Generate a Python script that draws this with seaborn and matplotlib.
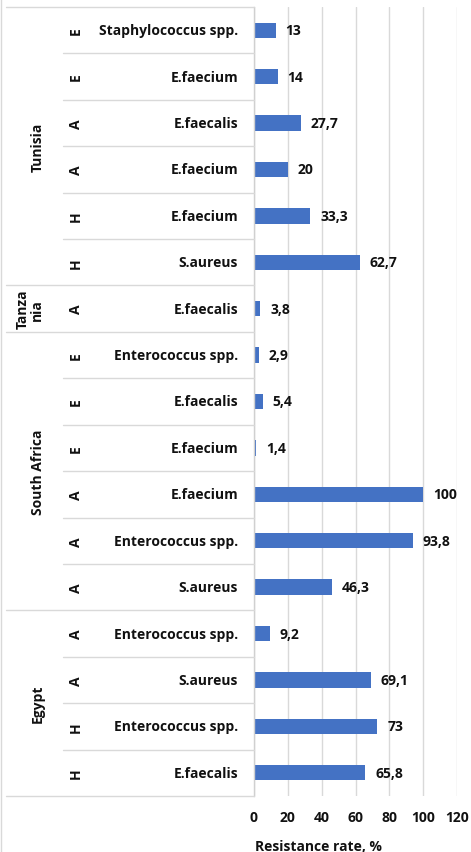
import numpy as np
import pandas as pd
import matplotlib
matplotlib.use("Agg")
import matplotlib.pyplot as plt
from matplotlib.lines import Line2D
from matplotlib.transforms import blended_transform_factory
import seaborn as sns

# ---- data (top to bottom) ----
countries = ["Tunisia"] * 6 + ["Tanzania"] + ["South Africa"] * 6 + ["Egypt"] * 4
country_labels = {"Tunisia": "Tunisia", "Tanzania": "Tanza\nnia",
                  "South Africa": "South Africa", "Egypt": "Egypt"}
sources = ["E", "E", "A", "A", "H", "H",
           "A",
           "E", "E", "E", "A", "A", "A",
           "A", "A", "H", "H"]
species = ["Staphylococcus spp.", "E.faecium", "E.faecalis", "E.faecium", "E.faecium", "S.aureus",
           "E.faecalis",
           "Enterococcus spp.", "E.faecalis", "E.faecium", "E.faecium", "Enterococcus spp.", "S.aureus",
           "Enterococcus spp.", "S.aureus", "Enterococcus spp.", "E.faecalis"]
values = [13, 14, 27.7, 20, 33.3, 62.7,
          3.8,
          2.9, 5.4, 1.4, 100, 93.8, 46.3,
          9.2, 69.1, 73, 65.8]
x_ticks = [0, 20, 40, 60, 80, 100, 120]

df = pd.DataFrame({"row": [f"r{i}" for i in range(len(values))],
                   "country": countries, "source": sources,
                   "species": species, "value": values})

sns.set_theme(style="white")
plt.rcParams["font.family"] = ["Open Sans", "DejaVu Sans"]
plt.rcParams["font.weight"] = "bold"

W, H = 471, 853
fig = plt.figure(figsize=(W / 100, H / 100), dpi=100)
ax = fig.add_axes([254 / W, 1 - 797 / H, (457 - 254) / W, (797 - 8) / H])

bar_color = "#4472C4"
sns.barplot(data=df, y="row", x="value", orient="h", color=bar_color,
            width=0.33, ax=ax, saturation=1, linewidth=0)

FS = 10
TXT = "#111111"
ax.set_xlim(0, 120)
ax.set_xticks(x_ticks)
ax.set_xticklabels([str(t) for t in x_ticks], fontsize=FS, fontweight="bold", color=TXT)
ax.tick_params(axis="x", length=0, pad=10)
ax.set_yticks([])
ax.set_ylabel("")
ax.set_xlabel("Resistance rate, %", fontsize=FS, fontweight="bold", color=TXT)
ax.xaxis.set_label_coords(0.315, -0.054)
for s in ["top", "right", "bottom"]:
    ax.spines[s].set_visible(False)
ax.spines["left"].set_color("#D0D0D0")
ax.spines["left"].set_linewidth(1)
ax.grid(axis="x", color="#D9D9D9", linewidth=1)
ax.set_axisbelow(True)

# data labels
for i, v in enumerate(values):
    txt = (f"{v:g}").replace(".", ",")
    ax.annotate(txt, (v, i), xytext=(7, 0), textcoords="offset points",
                va="center", ha="left", fontsize=FS, fontweight="bold", color=TXT)

# category table on the left
tr = blended_transform_factory(fig.transFigure, ax.transData)
line_col = "#D9D9D9"
n = len(values)
for i in range(n):
    ax.text(238 / W, i, species[i], transform=tr, ha="right", va="center",
            fontsize=FS, fontweight="bold", color=TXT)
    ax.text(76 / W, i, sources[i], transform=tr, ha="center", va="center",
            rotation=90, fontsize=FS, fontweight="bold", color=TXT)

# boundaries
for i in range(1, n):
    y = i - 0.5
    x0 = 6 / W if countries[i] != countries[i - 1] else 63 / W
    fig.add_artist(Line2D([x0, 254 / W], [y, y], transform=tr, color=line_col, lw=1))
for y in [-0.5, n - 0.5]:
    fig.add_artist(Line2D([6 / W, 254 / W], [y, y], transform=tr, color=line_col, lw=1))

# country labels
start = 0
for i in range(1, n + 1):
    if i == n or countries[i] != countries[start]:
        mid = (start + i - 1) / 2
        cx = 30 / W if countries[start] == "Tanzania" else 38 / W
        ax.text(cx, mid, country_labels[countries[start]], transform=tr,
                ha="center", va="center", rotation=90, fontsize=FS,
                fontweight="bold", color=TXT, linespacing=1.0)
        start = i

# outer border on left
fig.add_artist(Line2D([1 / W, 1 / W], [0, 1], transform=fig.transFigure, color=line_col, lw=1))

fig.savefig("out.png", dpi=100, facecolor="white")
